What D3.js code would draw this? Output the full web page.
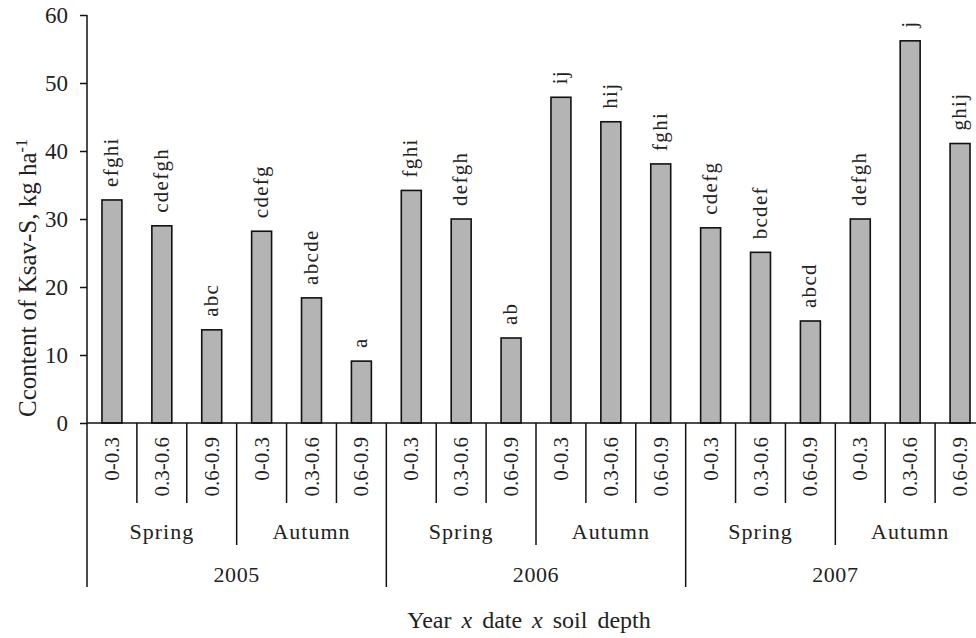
<!DOCTYPE html>
<html>
<head>
<meta charset="utf-8">
<script src="https://cdn.jsdelivr.net/npm/d3@7"></script>
<style>
  html, body { margin: 0; padding: 0; background: #fff; }
  svg { display: block; }
  text { font-family: "Liberation Serif", "Times New Roman", serif; fill: #222; }
</style>
</head>
<body>
<svg id="chart" width="976" height="638"></svg>
<script>
// Available K-S content by year, sampling date and soil depth
const years = ["2005", "2006", "2007"];
const seasons = ["Spring", "Autumn"];
const depths = ["0-0.3", "0.3-0.6", "0.6-0.9"];
const values = [32.8, 29.0, 13.7, 28.2, 18.4, 9.1,
                34.2, 30.0, 12.5, 47.9, 44.3, 38.1,
                28.7, 25.1, 15.0, 30.0, 56.2, 41.1];
const letters = ["efghi", "cdefgh", "abc", "cdefg", "abcde", "a",
                 "fghi", "defgh", "ab", "ij", "hij", "fghi",
                 "cdefg", "bcdef", "abcd", "defgh", "j", "ghij"];
const yTicks = [0, 10, 20, 30, 40, 50, 60];

// Build one row per bar
const rows = [];
years.forEach((yr, yi) => seasons.forEach((s, si) => depths.forEach((d, di) => {
  const i = rows.length;
  rows.push({ i, year: yr, season: s, depth: d, value: values[i], letter: letters[i] });
})));

const svg = d3.select("#chart");
const plotLeft = 87, plotRight = 985, plotTop = 15, plotBase = 423;

const x = d3.scaleBand().domain(rows.map(r => r.i)).range([plotLeft, plotRight]).paddingInner(0.6).paddingOuter(0.3);
const step = x.step();
const y = d3.scaleLinear().domain([0, 60]).range([plotBase, plotTop]);

// Bars
svg.append("g").selectAll("rect").data(rows).join("rect")
  .attr("x", d => x(d.i))
  .attr("y", d => y(d.value))
  .attr("width", x.bandwidth())
  .attr("height", d => y(0) - y(d.value))
  .attr("fill", "#b4b4b4")
  .attr("stroke", "#111")
  .attr("stroke-width", 1.6);

// Significance letters above bars
svg.append("g").selectAll("text").data(rows).join("text")
  .attr("transform", d => `translate(${x(d.i) + x.bandwidth() / 2 + 6},${y(d.value) - 13}) rotate(-90)`)
  .attr("text-anchor", "start")
  .style("font-size", "21px")
  .style("letter-spacing", "1.3px")
  .text(d => d.letter);

// Y axis
const yAxis = svg.append("g")
  .attr("transform", `translate(${plotLeft},0)`)
  .call(d3.axisLeft(y).tickValues(yTicks).tickSize(7).tickSizeOuter(0).tickPadding(12));
yAxis.select(".domain").remove();
yAxis.selectAll(".tick line").attr("stroke", "#111").attr("stroke-width", 1.5);
yAxis.selectAll(".tick text")
  .style("font-size", "23px")
  .style("font-family", "Liberation Serif, serif")
  .attr("fill", "#222");

const lines = svg.append("g").attr("stroke", "#111").attr("stroke-width", 1.5);
// vertical axis line
lines.append("line").attr("x1", plotLeft).attr("x2", plotLeft).attr("y1", y(60)).attr("y2", plotBase);
// baseline
lines.append("line").attr("x1", plotLeft).attr("x2", plotRight).attr("y1", plotBase).attr("y2", plotBase);

// Category boundary lines of the nested x axis
const depthLen = 503, seasonLen = 545, yearLen = 587;
d3.range(0, rows.length + 1).forEach(k => {
  const xb = plotLeft + k * step;
  const len = k % 6 === 0 ? yearLen : (k % 3 === 0 ? seasonLen : depthLen);
  lines.append("line").attr("x1", xb).attr("x2", xb).attr("y1", plotBase).attr("y2", len);
});

// Depth labels
svg.append("g").selectAll("text").data(rows).join("text")
  .attr("transform", d => `translate(${x(d.i) + x.bandwidth() / 2 + 7},437) rotate(-90)`)
  .attr("text-anchor", "end")
  .style("font-size", "21px")
  .text(d => d.depth);

// Season labels
const seasonGroups = [];
years.forEach((yr, yi) => seasons.forEach((s, si) => seasonGroups.push({ s, k: yi * 6 + si * 3 })));
svg.append("g").selectAll("text").data(seasonGroups).join("text")
  .attr("x", d => plotLeft + (d.k + 1.5) * step)
  .attr("y", 539)
  .attr("text-anchor", "middle")
  .style("font-size", "22px")
  .style("letter-spacing", "1px")
  .text(d => d.s);

// Year labels
svg.append("g").selectAll("text").data(years).join("text")
  .attr("x", (d, i) => plotLeft + (i * 6 + 3) * step)
  .attr("y", 582)
  .attr("text-anchor", "middle")
  .style("font-size", "22px")
  .style("letter-spacing", "0.6px")
  .text(d => d);

// Axis titles
const xt = svg.append("text")
  .attr("x", 529).attr("y", 628)
  .attr("text-anchor", "middle")
  .style("font-size", "24px")
  .style("word-spacing", "4px");
xt.append("tspan").text("Year ");
xt.append("tspan").style("font-style", "italic").text("x");
xt.append("tspan").text(" date ");
xt.append("tspan").style("font-style", "italic").text("x");
xt.append("tspan").text(" soil depth");

const yt = svg.append("text")
  .attr("transform", "translate(36,278) rotate(-90)")
  .attr("text-anchor", "middle")
  .style("font-size", "25px");
yt.append("tspan").text("Ccontent of Ksav-S, kg ha");
yt.append("tspan").attr("dy", "-9").style("font-size", "16px").text("-1");
</script>
</body>
</html>
